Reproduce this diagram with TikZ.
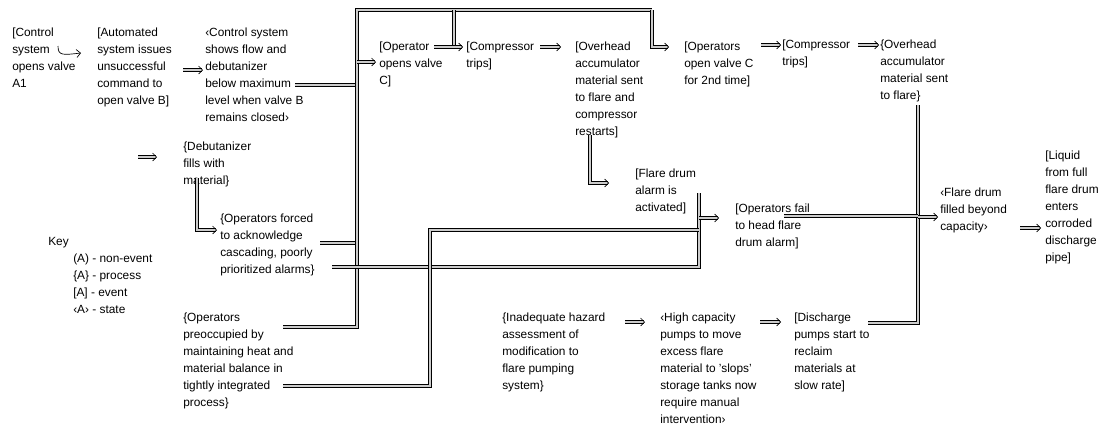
\documentclass[tikz,border=0pt]{standalone}
\usepackage{fontspec}
\setmainfont{Liberation Sans}
\usetikzlibrary{arrows.meta}
\tikzset{
  evt/.style={anchor=north west, inner sep=0pt, align=left,
    font=\fontsize{8.9}{12.75}\selectfont},
  bus/.style={draw=black, line width=0.55pt, double=black!20, double distance=1.3pt},
  flow/.style={bus, -{Straight Barb[length=3pt, width=6pt, line width=0.5pt]}},
  hook/.style={line width=0.5pt, -{Straight Barb[length=3pt, width=6pt]}}
}

\begin{document}
\begin{tikzpicture}[x=0.75pt, y=-0.75pt]
  \useasboundingbox (0,0) rectangle (1117,426);

  % events, top row
  \node[evt] (ctrlA) at (12,28) {[Control\\system\\opens valve\\A1};
  \node[evt] (autoCmd) at (97,28) {[Automated\\system issues\\unsuccessful\\command to\\open valve B]};
  \node[evt] (lowLevel) at (205,28) {‹Control system\\shows flow and\\debutanizer\\below maximum\\level when valve B\\remains closed›};
  \node[evt] (opC) at (379,42) {[Operator\\opens valve\\C]};
  \node[evt] (compTrip) at (466,42) {[Compressor\\trips]};
  \node[evt] (ohFlare) at (575,42) {[Overhead\\accumulator\\material sent\\to flare and\\compressor\\restarts]};
  \node[evt] (opC2) at (684,42) {[Operators\\open valve C\\for 2nd time]};
  \node[evt] (compTrip2) at (782,40) {[Compressor\\trips]};
  \node[evt] (ohFlare2) at (880,40) {\{Overhead\\accumulator\\material sent\\to flare\}};

  % middle
  \node[evt] (debFill) at (183,142) {\{Debutanizer\\fills with\\material\}};
  \node[evt] (ackAlarm) at (220,214) {\{Operators forced\\to acknowledge\\cascading, poorly\\prioritized alarms\}};
  \node[evt] (drumAlarm) at (635,169) {[Flare drum\\alarm is\\activated]};
  \node[evt] (failHeed) at (735,204) {[Operators fail\\to head flare\\drum alarm]};
  \node[evt] (drumFull) at (940,188) {‹Flare drum\\filled beyond\\capacity›};
  \node[evt] (liquid) at (1045,151) {[Liquid\\from full\\flare drum\\enters\\corroded\\discharge\\pipe]};

  % key
  \node[evt] (keyTitle) at (48,237) {Key};
  \node[evt] (keyList) at (73,254) {(A) - non-event\\\{A\} - process\\{}[A] - event\\‹A› - state};

  % bottom row
  \node[evt] (preocc) at (183,313) {\{Operators\\preoccupied by\\maintaining heat and\\material balance in\\tightly integrated\\process\}};
  \node[evt] (hazard) at (502,313) {\{Inadequate hazard\\assessment of\\modification to\\flare pumping\\system\}};
  \node[evt] (pumps) at (660,313) {‹High capacity\\pumps to move\\excess flare\\material to 'slops'\\storage tanks now\\require manual\\intervention›};
  \node[evt] (discharge) at (794,313) {[Discharge\\pumps start to\\reclaim\\materials at\\slow rate]};

  % connector ends
  \coordinate (ctrlA-out) at (58,46);
  \coordinate (autoCmd-in) at (81,53);
  \coordinate (autoCmd-out) at (183,70);
  \coordinate (lowLevel-in) at (203,70);
  \coordinate (lowLevel-out) at (295,85);
  \coordinate (busTL) at (357,10);
  \coordinate (busTM) at (454,10);
  \coordinate (busTR) at (652,10);
  \coordinate (opC-in) at (376,62);
  \coordinate (opC-out) at (434,47);
  \coordinate (compTrip-in) at (463,47);
  \coordinate (compTrip-out) at (540,47);
  \coordinate (ohFlare-in) at (561,47);
  \coordinate (ohFlare-out) at (590,135);
  \coordinate (opC2-in) at (669,47);
  \coordinate (opC2-out) at (761,45);
  \coordinate (compTrip2-in) at (781,45);
  \coordinate (compTrip2-out) at (858,45);
  \coordinate (ohFlare2-in) at (879,45);
  \coordinate (ohFlare2-out) at (918,105);
  \coordinate (debFill-src) at (138,157);
  \coordinate (debFill-in) at (157,157);
  \coordinate (debFill-out) at (197,178);
  \coordinate (ackAlarm-in) at (217,230);
  \coordinate (ackAlarm-out) at (320,243);
  \coordinate (ackAlarm-out2) at (332,267);
  \coordinate (preocc-out) at (283,327);
  \coordinate (preocc-out2) at (283,386);
  \coordinate (busM) at (430,230);
  \coordinate (drumAlarm-in) at (609,183);
  \coordinate (drumAlarm-out) at (699,193);
  \coordinate (failHeed-in) at (719,218);
  \coordinate (failHeed-out) at (784,216);
  \coordinate (drumFull-in) at (938,217);
  \coordinate (drumFull-out) at (1020,228);
  \coordinate (liquid-in) at (1041,228);
  \coordinate (hazard-out) at (625,322);
  \coordinate (pumps-in) at (645,322);
  \coordinate (pumps-out) at (760,322);
  \coordinate (discharge-in) at (781,322);
  \coordinate (discharge-out) at (868,323);

  % connectors
  \draw[hook] (ctrlA-out) .. controls (58,56) and (63,55) .. (autoCmd-in);
  \draw[flow] (autoCmd-out) -- (lowLevel-in);
  \draw[bus] (lowLevel-out) -- (lowLevel-out -| busTL);
  \draw[bus] (ackAlarm-out) -- (ackAlarm-out -| busTL);
  \draw[bus] (preocc-out) -- (preocc-out -| busTL) -- (busTL) -- (busTR);
  \draw[flow] (busTR) -- (busTR |- opC2-in) -- (opC2-in);
  \draw[flow] (opC-in -| busTL) -- (opC-in);
  \draw[bus] (busTM) -- (busTM |- opC-out);
  \draw[flow] (opC-out) -- (compTrip-in);
  \draw[flow] (compTrip-out) -- (ohFlare-in);
  \draw[flow] (ohFlare-out) -- (ohFlare-out |- drumAlarm-in) -- (drumAlarm-in);
  \draw[bus] (ackAlarm-out2) -- (ackAlarm-out2 -| drumAlarm-out) -- (drumAlarm-out);
  \draw[bus] (preocc-out2) -- (preocc-out2 -| busM) -- (busM) -- (busM -| drumAlarm-out);
  \draw[flow] (failHeed-in -| drumAlarm-out) -- (failHeed-in);
  \draw[flow] (debFill-src) -- (debFill-in);
  \draw[flow] (debFill-out) -- (debFill-out |- ackAlarm-in) -- (ackAlarm-in);
  \draw[flow] (opC2-out) -- (compTrip2-in);
  \draw[flow] (compTrip2-out) -- (ohFlare2-in);
  \draw[bus] (ohFlare2-out) -- (ohFlare2-out |- discharge-out) -- (discharge-out);
  \draw[bus] (failHeed-out) -- (failHeed-out -| ohFlare2-out);
  \draw[flow] (drumFull-in -| ohFlare2-out) -- (drumFull-in);
  \draw[flow] (drumFull-out) -- (liquid-in);
  \draw[flow] (hazard-out) -- (pumps-in);
  \draw[flow] (pumps-out) -- (discharge-in);
\end{tikzpicture}
\end{document}
